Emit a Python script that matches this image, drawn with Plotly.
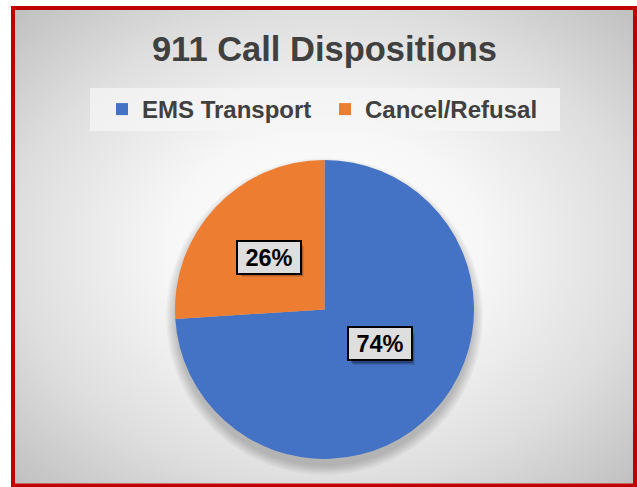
import math
import numpy as np
import plotly.graph_objects as go

# ---- data ----
categories = ["EMS Transport", "Cancel/Refusal"]
values = [74, 26]
colors = ["#4472C4", "#ED7D31"]
title_text = "911 Call Dispositions"

W, H = 637, 487
FONT = "Liberation Sans, Arial, sans-serif"

# pie geometry (pixels)
cx, cy, r = 324.5, 309.5, 149.5

def px(x):
    return x / W

def py(y):
    return 1 - y / H

fig = go.Figure()

# background radial gradient (extended so ellipse reaches corners)
bx0, bx1 = cx - 441, cx + 441
by0, by1 = 247 - 339, 247 + 339
fig.add_trace(go.Scatter(
    x=[bx0, bx1, bx1, bx0, bx0], y=[by0, by0, by1, by1, by0],
    mode="lines", line=dict(width=0), fill="toself",
    fillgradient=dict(type="radial",
                      colorscale=[[0, "#ffffff"], [0.35, "#f7f7f7"],
                                  [0.7, "#dedede"], [1, "#bfbfbf"]]),
    hoverinfo="skip", showlegend=False))

# soft shadow below the pie
th = np.linspace(0, 2 * np.pi, 181)
for k in range(7):
    rr = r + 1.5 * k
    fig.add_trace(go.Scatter(
        x=cx + rr * np.cos(th), y=cy + 7 + rr * np.sin(th),
        mode="lines", line=dict(width=0), fill="toself",
        fillcolor="rgba(0,0,0,0.03)", hoverinfo="skip", showlegend=False))

fig.add_trace(go.Pie(
    labels=categories, values=values, sort=False, direction="clockwise",
    rotation=0, marker=dict(colors=colors, line=dict(width=0)),
    textinfo="none", hoverinfo="label+percent",
    domain=dict(x=[px(cx - r), px(cx + r)], y=[py(cy + r), py(cy - r)]),
))

# data labels in boxes, placed at mid-angle of each slice
total = sum(values)
annotations = []
start = 0.0
for v in values:
    mid = (start + v / 2) / total * 2 * math.pi
    start += v
    d = 0.505 * r
    lx = cx + d * math.sin(mid)
    ly = cy - d * math.cos(mid)
    pct = f"{round(v / total * 100)}%"
    for off, op in [(4, 0.10), (3, 0.15), (2, 0.2)]:
        annotations.append(dict(
            x=px(lx + off), y=py(ly + off), xref="paper", yref="paper",
            text=" ", showarrow=False, width=62, height=31, borderpad=0,
            bgcolor=f"rgba(0,0,0,{op})", borderwidth=0))
    annotations.append(dict(
        x=px(lx), y=py(ly), xref="paper", yref="paper", text=pct,
        showarrow=False, width=60, height=29, borderpad=1,
        bgcolor="#dedede", bordercolor="#000000", borderwidth=2,
        font=dict(family=FONT, size=23.5, color="#000000", weight="bold")))

shapes = [
    # legend background
    dict(type="rect", xref="x", yref="y", x0=90, x1=560, y0=88, y1=131,
         fillcolor="rgba(246,246,246,0.75)", line=dict(width=0), layer="above"),
    # white outside border
    dict(type="rect", xref="x", yref="y", x0=0, x1=W, y0=0, y1=6,
         fillcolor="white", line=dict(width=0), layer="above"),
    dict(type="rect", xref="x", yref="y", x0=0, x1=11, y0=0, y1=H,
         fillcolor="white", line=dict(width=0), layer="above"),
    # red frame
    dict(type="rect", xref="x", yref="y", x0=13, x1=635, y0=8, y1=485.5,
         fillcolor="rgba(0,0,0,0)", line=dict(color="#C00000", width=4),
         layer="above"),
]

fig.update_layout(
    width=W, height=H, margin=dict(l=0, r=0, t=0, b=0),
    paper_bgcolor="white", plot_bgcolor="white",
    xaxis=dict(range=[0, W], visible=False, fixedrange=True),
    yaxis=dict(range=[H, 0], visible=False, fixedrange=True),
    title=dict(text=title_text, x=px(324.5), xanchor="center",
               y=py(49), yanchor="middle",
               font=dict(family=FONT, size=34.5, color="#404040", weight="bold")),
    legend=dict(orientation="h", x=px(325), xanchor="center",
                y=py(109.5), yanchor="middle", bgcolor="rgba(0,0,0,0)",
                font=dict(family=FONT, size=24, color="#404040", weight="bold"),
                itemsizing="constant", entrywidth=178, entrywidthmode="pixels"),
    shapes=shapes, annotations=annotations,
)

fig.write_html("out.html",
               config={"displayModeBar": False},
               post_script="document.body.style.margin='0';"
                           "document.body.style.overflow='hidden';")
